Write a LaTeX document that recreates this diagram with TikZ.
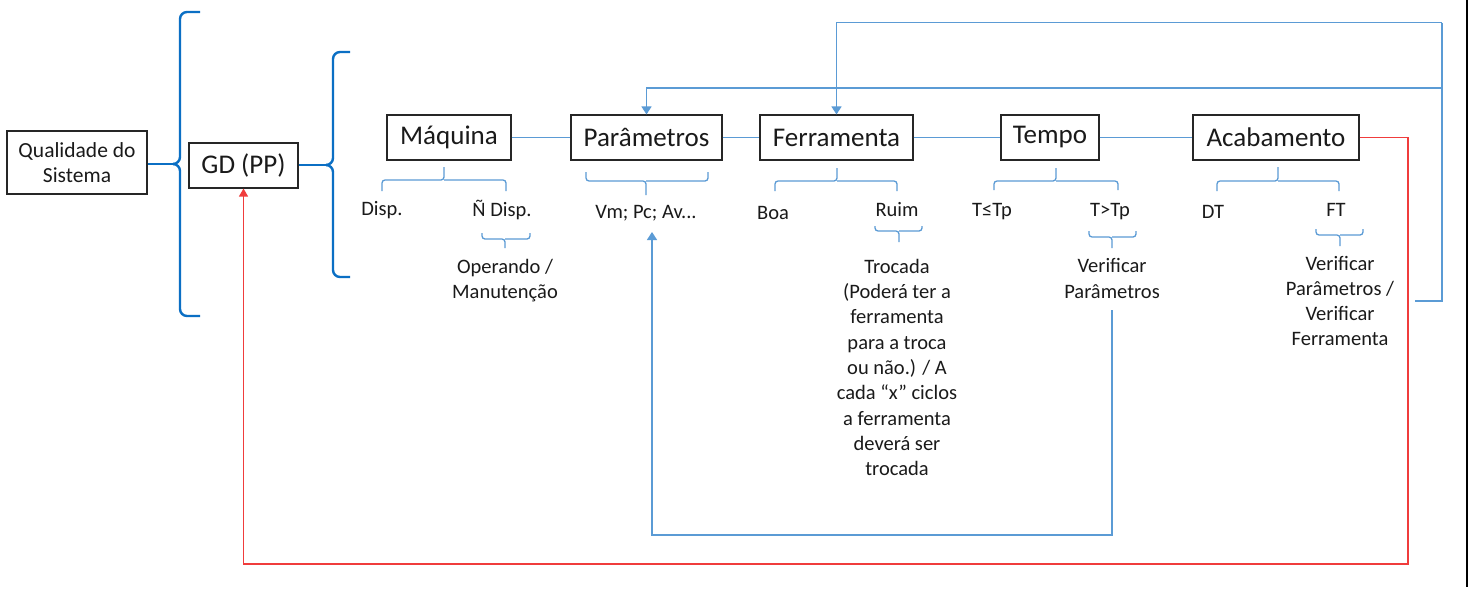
\documentclass[tikz,border=0pt]{standalone}
\usepackage{fontspec}
\setmainfont{Carlito}
\usetikzlibrary{arrows.meta}
\definecolor{lblue}{HTML}{5B9BD5}
\definecolor{dblue}{HTML}{0B6FC4}
\definecolor{redl}{HTML}{F03C3C}
\definecolor{txt}{HTML}{1A1A1A}
\tikzset{
  mainbox/.style={draw=black!85, line width=1.1pt, minimum height=45pt, inner sep=0pt, text=txt, font=\fontsize{27}{32}\selectfont},
  qbox/.style={draw=black!85, line width=1.1pt, minimum width=140pt, minimum height=63pt, inner sep=0pt, text=txt, align=center, font=\fontsize{21.5}{25}\selectfont},
  lbl/.style={inner sep=0pt, text=txt, align=center, font=\fontsize{20.5}{25.3}\selectfont},
  conn/.style={draw=lblue, line width=1.3pt},
  sbrace/.style={draw=lblue, line width=1.3pt, rounded corners=3pt},
  bbrace/.style={draw=dblue, line width=2.4pt, rounded corners=7pt},
  fb/.style={draw=lblue, line width=1.3pt, -{Triangle[length=8pt,width=10pt]}},
  redarr/.style={draw=redl, line width=1.3pt, -{Triangle[length=8pt,width=9pt]}},
}
\newcommand\mybrace[6]{%
  \draw[sbrace] (#1,#3) -- (#1,#4) -- (#5,#4) -- (#5,#6);
  \draw[sbrace] (#2,#3) -- (#2,#4) -- (#5,#4);}
\begin{document}
\begin{tikzpicture}[x=1pt,y=-1pt]
\useasboundingbox (0,0) rectangle (1472,590);
\fill[white] (0,0) rectangle (1472,590);

% left part
\node[qbox] (qual) at (77,162.5) {Qualidade do\\Sistema};
\node[mainbox, minimum width=109pt] (gd) at (243.5,165.5) {GD (PP)};

% big braces
\coordinate (c1) at (173,164);
\draw[bbrace] (200,12) -- (180,12) -- (180,164) -- (c1);
\draw[bbrace] (200,316) -- (180,316) -- (180,164) -- (c1);
\draw[dblue, line width=2.4pt] (qual.east |- c1) -- (c1);

\coordinate (c2) at (326,165);
\draw[bbrace] (350,52) -- (333,52) -- (333,165) -- (c2);
\draw[bbrace] (350,277) -- (333,277) -- (333,165) -- (c2);
\draw[dblue, line width=2.4pt] (gd.east |- c2) -- (c2);

% main boxes
\node[mainbox, minimum width=124pt] (maq) at (449,137.5) {Máquina};
\node[mainbox, minimum width=151pt] (par) at (646.5,137.5) {Parâmetros};
\node[mainbox, minimum width=153pt] (fer) at (836.5,137.5) {Ferramenta};
\node[mainbox, minimum width=98pt] (tem) at (1050,137.5) {Tempo};
\node[mainbox, minimum width=166pt] (aca) at (1276,137.5) {Acabamento};

\draw[conn] (maq) -- (par);
\draw[conn] (par) -- (fer);
\draw[conn] (fer) -- (tem);
\draw[conn] (tem) -- (aca);

% small braces
\mybrace{382}{506}{191}{180}{444}{167}
\mybrace{586}{708}{172}{181}{646}{195}
\mybrace{482}{530}{233}{239}{505}{248}
\mybrace{775}{897}{191}{181}{837}{168}
\mybrace{875}{922}{226}{231}{899}{242}
\mybrace{994}{1118}{190}{181}{1056}{168}
\mybrace{1089}{1136}{231}{237}{1112}{248}
\mybrace{1217}{1339}{191}{181}{1278}{167}
\mybrace{1316}{1363}{229}{235}{1340}{246}

% labels
\node[lbl] (disp) at (382,210) {Disp.};
\node[lbl] (ndisp) at (502,210) {Ñ Disp.};
\node[lbl] (oper) at (505,280.5) {Operando /\\Manutenção};
\node[lbl] (vm) at (646,213) {Vm; Pc; Av...};
\node[lbl] (boa) at (773,213) {Boa};
\node[lbl] (ruim) at (897,210) {Ruim};
\node[lbl] (troc) at (897,367.5) {Trocada\\(Poderá ter a\\ferramenta\\para a troca\\ou não.) / A\\cada “x” ciclos\\a ferramenta\\deverá ser\\trocada};
\node[lbl] (tle) at (992,212) {T≤Tp};
\node[lbl] (tgt) at (1110,212) {T>Tp};
\node[lbl] (verp) at (1112,278.5) {Verificar\\Parâmetros};
\node[lbl] (dt) at (1213,212) {DT};
\node[lbl] (ft) at (1336,210) {FT};
\node[lbl] (verf) at (1340,301) {Verificar\\Parâmetros /\\Verificar\\Ferramenta};

% feedback from Tempo to Vm
\coordinate (ts) at (1112,310);
\coordinate (tb) at (652,535);
\coordinate (vmt) at (652,232);
\draw[fb] (ts) |- (tb) -- (vmt);

% feedback from Acabamento
\coordinate (as) at (1415,301);
\coordinate (ar) at (1442,301);
\coordinate (top1) at (1442,22.7);
\coordinate (top2) at (1442,88);
\draw[conn] (as) -- (ar) -- (top1);
\draw[fb] (top1) -| (fer.north);
\draw[fb] (top2) -| (par.north);

% red feedback
\coordinate (rc) at (1408,564);
\draw[redarr] (aca.east) -| (rc) -| (gd.south);

% screenshot edge
\draw[black, line width=1.2pt] (1467,0) -- (1467,587);
\end{tikzpicture}
\end{document}
